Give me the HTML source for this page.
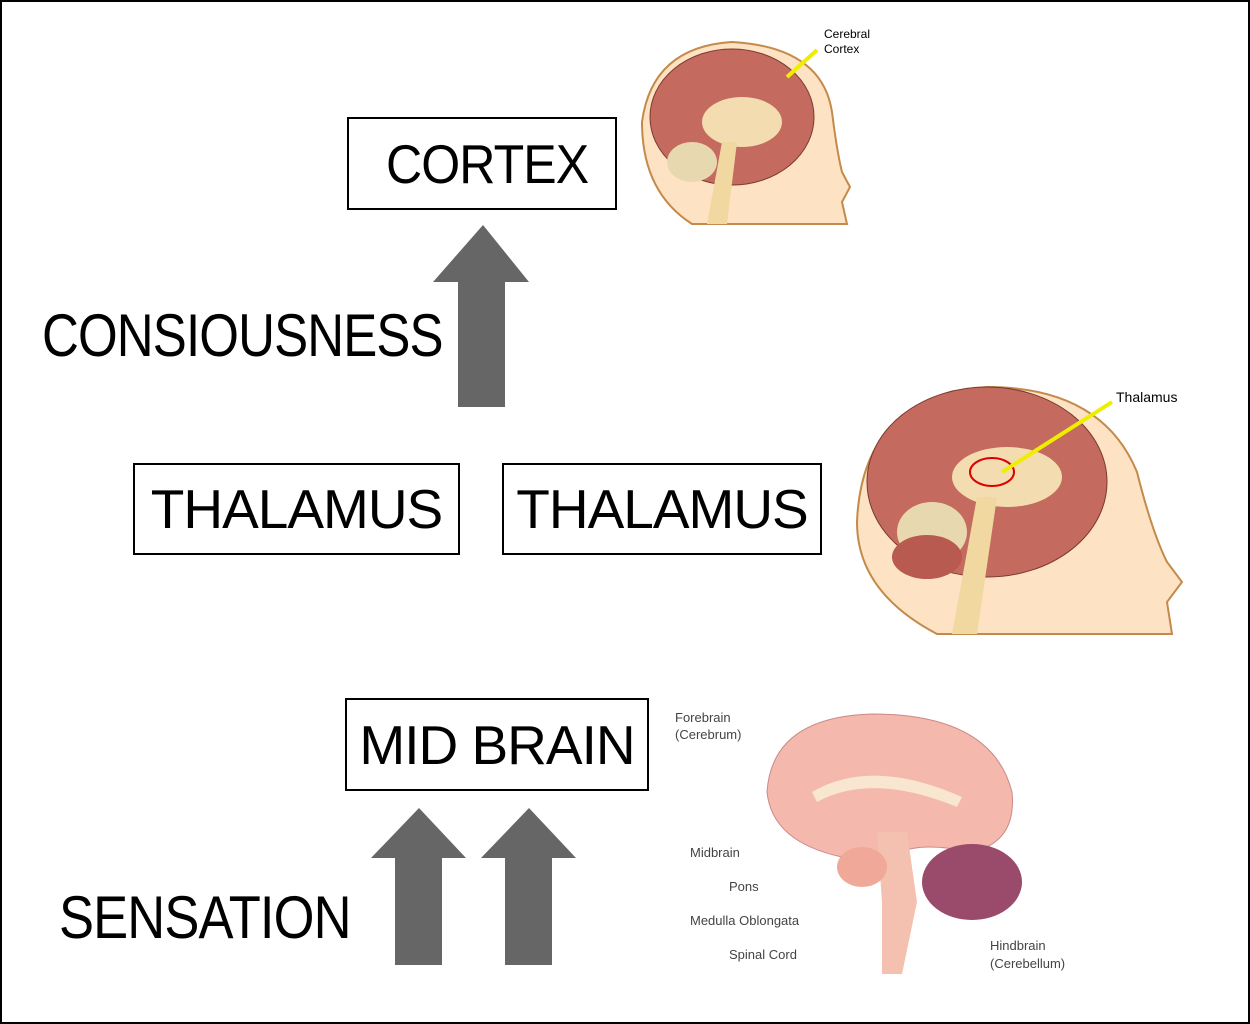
<!DOCTYPE html>
<html><head><meta charset="utf-8"><style>
html,body{margin:0;padding:0;background:#fff;}
#f{position:relative;width:1246px;height:1020px;border:2px solid #000;overflow:hidden;font-family:"Liberation Sans",sans-serif;}
.box{position:absolute;border:2px solid #000;box-sizing:border-box;display:flex;align-items:center;justify-content:center;font-size:55px;color:#000;letter-spacing:-1px;}
.box span{display:inline-block;}
.t{position:absolute;font-size:60px;color:#000;letter-spacing:-1px;white-space:nowrap;line-height:1;transform-origin:left top;}
svg{position:absolute;left:0;top:0;}
</style></head><body><div id="f">
<div class="box" style="left:345px;top:115px;width:270px;height:93px;padding-left:10px"><span style="transform:scaleX(0.91)">CORTEX</span></div>
<div class="box" style="left:131px;top:461px;width:327px;height:92px">THALAMUS</div>
<div class="box" style="left:500px;top:461px;width:320px;height:92px">THALAMUS</div>
<div class="box" style="left:343px;top:696px;width:304px;height:93px">MID BRAIN</div>
<div class="t" style="left:40px;top:304px;transform:scaleX(0.85)">CONSIOUSNESS</div>
<div class="t" style="left:57px;top:886px;transform:scaleX(0.875)">SENSATION</div>
<svg width="1246" height="1020">
<g fill="#666">
<polygon points="456,405 503,405 503,280 527,280 481,223 431,280 456,280"/>
<polygon points="393,963 440,963 440,856 464,856 417,806 369,856 393,856"/>
<polygon points="503,963 550,963 550,856 574,856 527,806 479,856 503,856"/>
</g>
<g>
<path d="M640,120 Q650,45 730,40 Q820,45 830,110 Q835,150 840,170 L848,185 L840,200 L845,222 L690,222 Q640,190 640,120Z" fill="#fde2c4" stroke="#c48a4a" stroke-width="2"/>
<ellipse cx="730" cy="115" rx="82" ry="68" fill="#c46a5e" stroke="#7a3a30"/>
<ellipse cx="740" cy="120" rx="40" ry="25" fill="#f2dcb0"/>
<ellipse cx="690" cy="160" rx="25" ry="20" fill="#e8d8b0"/>
<path d="M705,222 L720,140 L735,140 L725,222Z" fill="#f0d8a0"/>
<line x1="785" y1="75" x2="815" y2="48" stroke="#ee0" stroke-width="4"/>
<text x="822" y="36" font-size="12" font-family="Liberation Sans">Cerebral</text>
<text x="822" y="51" font-size="12" font-family="Liberation Sans">Cortex</text>
</g>
<g>
<path d="M855,520 Q860,395 985,385 Q1100,385 1135,470 Q1150,530 1165,560 L1180,580 L1165,600 L1170,632 L935,632 Q855,590 855,520Z" fill="#fde2c4" stroke="#c48a4a" stroke-width="2"/>
<ellipse cx="985" cy="480" rx="120" ry="95" fill="#c46a5e" stroke="#7a3a30"/>
<ellipse cx="1005" cy="475" rx="55" ry="30" fill="#f2dcb0"/>
<ellipse cx="990" cy="470" rx="22" ry="14" fill="none" stroke="#d00" stroke-width="2"/>
<ellipse cx="930" cy="530" rx="35" ry="30" fill="#e8d8b0"/>
<ellipse cx="925" cy="555" rx="35" ry="22" fill="#b85a50"/>
<path d="M950,632 L975,495 L995,495 L975,632Z" fill="#f0d8a0"/>
<line x1="1000" y1="470" x2="1110" y2="400" stroke="#ee0" stroke-width="4"/>
<text x="1114" y="400" font-size="14" font-family="Liberation Sans">Thalamus</text>
</g>
<g font-family="Liberation Sans" font-size="13" fill="#444">
<path d="M765,790 Q770,715 870,712 Q990,712 1010,790 Q1015,840 970,850 Q920,840 900,850 L880,860 L840,855 Q770,840 765,790Z" fill="#f4b8ac" stroke="#c88"/>
<path d="M810,790 Q870,755 960,795 L955,805 Q870,770 815,800Z" fill="#f8e6d0"/>
<ellipse cx="970" cy="880" rx="50" ry="38" fill="#9a4a6a"/>
<path d="M875,830 L905,830 L915,900 L900,972 L880,972 L880,900Z" fill="#f4c0b0"/>
<ellipse cx="860" cy="865" rx="25" ry="20" fill="#f0a898"/>
<text x="673" y="720">Forebrain</text><text x="673" y="737">(Cerebrum)</text>
<text x="688" y="855">Midbrain</text>
<text x="727" y="889">Pons</text>
<text x="688" y="923">Medulla Oblongata</text>
<text x="727" y="957">Spinal Cord</text>
<text x="988" y="948">Hindbrain</text><text x="988" y="966">(Cerebellum)</text>
</g>
</svg>
</div></body></html>
